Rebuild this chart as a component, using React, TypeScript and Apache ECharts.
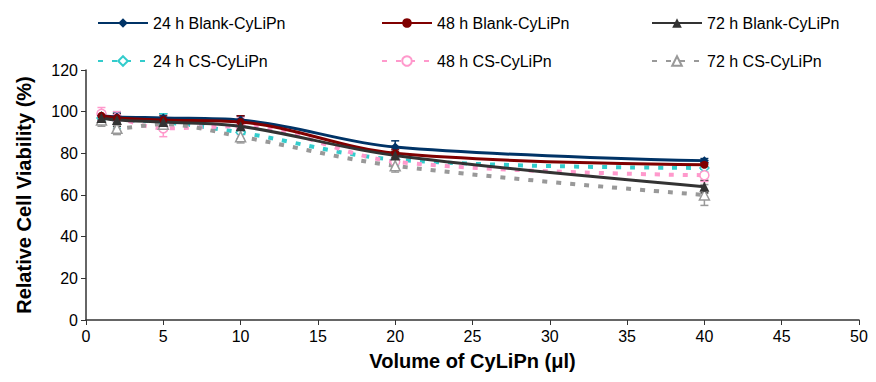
import React, { useEffect, useRef } from "react";
import * as echarts from "echarts";

const volumes = [1, 2, 5, 10, 20, 40];
const seriesNames = [
  "24 h Blank-CyLiPn",
  "48 h Blank-CyLiPn",
  "72 h Blank-CyLiPn",
  "24 h CS-CyLiPn",
  "48 h CS-CyLiPn",
  "72 h CS-CyLiPn",
];
const blank24 = [98, 97.5, 97, 96, 83, 76.5];
const blank48 = [98, 97, 96, 95, 80, 74.5];
const blank72 = [97, 96, 95, 93, 79, 64];
const cs24 = [97, 96, 95, 90, 77, 73];
const cs48 = [99, 97, 92, 93, 76, 69.5];
const cs72 = [96, 92, 94, 88, 74, 60];
const errBlank24 = [2, 2, 2, 2, 3, 1];
const errBlank48 = [2, 2, 2, 3, 2, 1];
const errBlank72 = [2, 3, 2, 2, 2, 3];
const errCs24 = [3, 4, 4, 3, 3, 2];
const errCs48 = [3, 3, 4, 4, 3, 3];
const errCs72 = [3, 3, 3, 3, 3, 5];

const xTicks = { min: 0, max: 50, interval: 5 };
const yTicks = { min: 0, max: 120, interval: 20 };

const colors = ["#003366", "#800000", "#333333", "#33CCCC", "#FF99CC", "#999999"];
const symbols = ["diamond", "circle", "triangle", "diamond", "circle", "triangle"];
const symbolSizes = [9, 8, 10, 9, 9, 10];

export default function App() {
  const ref = useRef<HTMLDivElement>(null);
  useEffect(() => {
    if (!ref.current) return;
    const chart = echarts.init(ref.current, undefined, { renderer: "svg" });
    const values = [blank24, blank48, blank72, cs24, cs48, cs72];
    const errors = [errBlank24, errBlank48, errBlank72, errCs24, errCs48, errCs72];
    const font = "Liberation Sans, Arial, sans-serif";

    const lineSeries: any[] = values.map((vals, i) => {
      const dashed = i >= 3;
      return {
        name: seriesNames[i],
        type: "line",
        smooth: 0.35,
        z: dashed ? 3 : 4,
        data: volumes.map((v, j) => [v, vals[j]]),
        symbol: symbols[i],
        symbolSize: symbolSizes[i],
        showSymbol: true,
        lineStyle: {
          color: colors[i],
          width: dashed ? 4 : 3,
          type: dashed ? [5, 9] : "solid",
        },
        itemStyle: {
          color: dashed ? "#ffffff" : colors[i],
          borderColor: colors[i],
          borderWidth: dashed ? 1.5 : 0,
        },
      };
    });

    const errorSeries: any[] = values.map((vals, i) => ({
      name: seriesNames[i] + " err",
      type: "custom",
      z: 2,
      data: volumes.map((v, j) => [v, vals[j] - errors[i][j], vals[j] + errors[i][j]]),
      renderItem: (params: any, api: any) => {
        const x = api.value(0);
        const lo = api.coord([x, api.value(1)]);
        const hi = api.coord([x, api.value(2)]);
        const half = 4;
        const style = { stroke: colors[i], lineWidth: 1.5 };
        return {
          type: "group",
          children: [
            { type: "line", shape: { x1: lo[0], y1: lo[1], x2: hi[0], y2: hi[1] }, style },
            { type: "line", shape: { x1: lo[0] - half, y1: lo[1], x2: lo[0] + half, y2: lo[1] }, style },
            { type: "line", shape: { x1: hi[0] - half, y1: hi[1], x2: hi[0] + half, y2: hi[1] }, style },
          ],
        };
      },
      encode: { x: 0, y: [1, 2] },
      silent: true,
    }));

    const legendLefts = [84, 368, 638];
    const legendTops = [2, 40];
    const legends = seriesNames.map((name, i) => ({
      data: [name],
      left: legendLefts[i % 3],
      top: legendTops[Math.floor(i / 3)],
      itemWidth: 50,
      itemHeight: 12,
      itemGap: 0,
      textStyle: { fontFamily: font, fontSize: 16, color: "#000" },
      selectedMode: false,
    }));

    chart.setOption({
      animation: false,
      color: colors,
      legend: legends,
      grid: { left: 78, right: 9, top: 62, bottom: 54, containLabel: false, outerBoundsMode: "none" },
      xAxis: {
        type: "value",
        ...xTicks,
        name: "Volume of CyLiPn (μl)",
        nameLocation: "middle",
        nameGap: 31,
        nameTextStyle: { fontFamily: font, fontSize: 20, fontWeight: "bold", color: "#000" },
        axisLine: { lineStyle: { color: "#333", width: 1.5 } },
        axisTick: { show: true, length: 5, lineStyle: { color: "#333" } },
        axisLabel: { fontFamily: font, fontSize: 16, color: "#000", margin: 8 },
        splitLine: { show: false },
      },
      yAxis: {
        type: "value",
        ...yTicks,
        name: "Relative Cell Viability (%)",
        nameLocation: "middle",
        nameGap: 52,
        nameTextStyle: { fontFamily: font, fontSize: 20, fontWeight: "bold", color: "#000" },
        axisLine: { show: true, lineStyle: { color: "#333", width: 1.5 } },
        axisTick: { show: true, length: 5, lineStyle: { color: "#333" } },
        axisLabel: { fontFamily: font, fontSize: 16, color: "#000", margin: 8 },
        splitLine: { show: false },
      },
      series: [...errorSeries, ...lineSeries],
    });
    return () => chart.dispose();
  }, []);
  return <div ref={ref} style={{ width: 860, height: 366 }} />;
}
